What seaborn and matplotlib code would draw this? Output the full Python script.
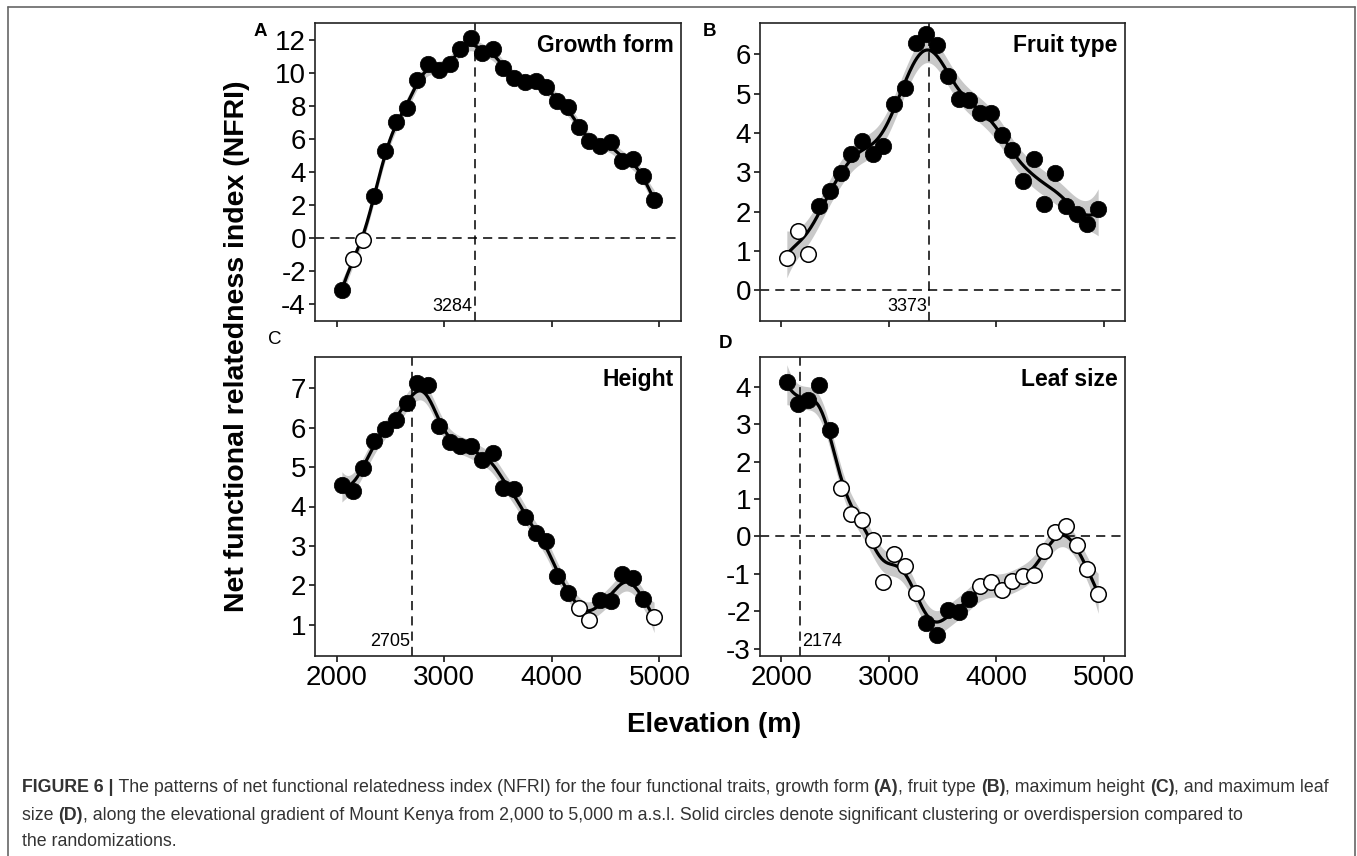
import numpy as np
import pandas as pd
import matplotlib
matplotlib.use("Agg")
import matplotlib.pyplot as plt
import seaborn as sns

# Elevation bands (m) - same for all four traits
elevation = [2050, 2150, 2250, 2350, 2450, 2550, 2650, 2750, 2850, 2950,
             3050, 3150, 3250, 3350, 3450, 3550, 3650, 3750, 3850, 3950,
             4050, 4150, 4250, 4350, 4450, 4550, 4650, 4750, 4850, 4950]

# NFRI values
growth_nfri = [-3.10, -1.25, -0.08, 2.53, 5.24, 7.05, 7.85, 9.56, 10.50, 10.16,
               10.52, 11.40, 12.07, 11.16, 11.43, 10.26, 9.66, 9.46, 9.50, 9.16,
               8.29, 7.95, 6.69, 5.88, 5.60, 5.80, 4.68, 4.78, 3.73, 2.33]
fruit_nfri = [0.81, 1.52, 0.92, 2.14, 2.53, 2.99, 3.47, 3.80, 3.47, 3.68,
              4.73, 5.14, 6.28, 6.51, 6.25, 5.46, 4.86, 4.84, 4.52, 4.52,
              3.95, 3.57, 2.79, 3.34, 2.19, 2.99, 2.15, 1.94, 1.70, 2.08]
height_nfri = [4.54, 4.40, 4.97, 5.67, 5.98, 6.21, 6.62, 7.15, 7.08, 6.05,
               5.63, 5.53, 5.53, 5.18, 5.35, 4.47, 4.44, 3.74, 3.33, 3.13,
               2.24, 1.81, 1.41, 1.11, 1.62, 1.60, 2.28, 2.17, 1.66, 1.18]
leaf_nfri = [4.12, 3.54, 3.66, 4.05, 2.85, 1.30, 0.61, 0.43, -0.09, -1.22,
             -0.46, -0.80, -1.51, -2.32, -2.63, -1.98, -2.02, -1.67, -1.33, -1.22,
             -1.44, -1.20, -1.07, -1.02, -0.40, 0.13, 0.28, -0.24, -0.86, -1.53]

# 1 = significant (solid circle), 0 = not significant (open circle)
growth_sig = [1, 0, 0, 1, 1, 1, 1, 1, 1, 1, 1, 1, 1, 1, 1,
              1, 1, 1, 1, 1, 1, 1, 1, 1, 1, 1, 1, 1, 1, 1]
fruit_sig = [0, 0, 0, 1, 1, 1, 1, 1, 1, 1, 1, 1, 1, 1, 1,
             1, 1, 1, 1, 1, 1, 1, 1, 1, 1, 1, 1, 1, 1, 1]
height_sig = [1, 1, 1, 1, 1, 1, 1, 1, 1, 1, 1, 1, 1, 1, 1,
              1, 1, 1, 1, 1, 1, 1, 0, 0, 1, 1, 1, 1, 1, 0]
leaf_sig = [1, 1, 1, 1, 1, 0, 0, 0, 0, 0, 0, 0, 0, 1, 1,
            1, 1, 1, 0, 0, 0, 0, 0, 0, 0, 0, 0, 0, 0, 0]

panel_titles = ["Growth form", "Fruit type", "Height", "Leaf size"]
panel_letters = ["A", "B", "C", "D"]
peak_elev = [3284, 3373, 2705, 2174]
y_ticks = [[-4, -2, 0, 2, 4, 6, 8, 10, 12], [0, 1, 2, 3, 4, 5, 6],
           [1, 2, 3, 4, 5, 6, 7], [-3, -2, -1, 0, 1, 2, 3, 4]]
y_limits = [(-5, 13), (-0.78, 6.8), (0.2, 7.8), (-3.2, 4.8)]
x_ticks = [2000, 3000, 4000, 5000]
smooth_bw = [75, 125, 90, 100]


def local_linear(x, y, grid, bw):
    # gaussian-kernel local linear smoother with pointwise standard error
    x = np.asarray(x, float)
    y = np.asarray(y, float)

    def weights(g):
        w = np.exp(-0.5 * ((x - g) / bw) ** 2)
        X = np.column_stack([np.ones_like(x), x - g])
        A = np.linalg.solve(X.T @ (X * w[:, None]), (X * w[:, None]).T)
        return A[0]

    L = np.array([weights(g) for g in x])
    resid = y - L @ y
    sigma = np.sqrt(np.sum(resid ** 2) / (len(x) - np.trace(L)))
    Lg = np.array([weights(g) for g in grid])
    return Lg @ y, sigma * np.sqrt(np.sum(Lg ** 2, axis=1))


sns.set_theme(style="ticks")
plt.rcParams["font.family"] = ["Liberation Sans", "DejaVu Sans"]
plt.rcParams["axes.unicode_minus"] = False
plt.rcParams["text.color"] = "black"
plt.rcParams["axes.labelcolor"] = "black"

fig = plt.figure(figsize=(13.57, 8.56), dpi=100)
W, H = 1357, 856
boxes = [(315, 23, 681, 321), (760, 23, 1125, 321),
         (315, 357, 681, 656), (760, 357, 1125, 656)]

series = [growth_nfri, fruit_nfri, height_nfri, leaf_nfri]
sigs = [growth_sig, fruit_sig, height_sig, leaf_sig]

for i in range(4):
    l, t, r, b = boxes[i]
    ax = fig.add_axes([l / W, 1 - b / H, (r - l) / W, (b - t) / H])
    df = pd.DataFrame({"elev": elevation, "nfri": series[i], "sig": sigs[i]})

    grid = np.linspace(min(elevation), max(elevation), 300)
    fit, se = local_linear(df["elev"], df["nfri"], grid, smooth_bw[i])
    ax.fill_between(grid, fit - 1.96 * se, fit + 1.96 * se,
                    color="#c9c9c9", lw=0, zorder=1)

    ax.axvline(peak_elev[i], color="black", lw=1.1, ls=(0, (6, 4)), zorder=2)
    if y_limits[i][0] < 0:
        ax.axhline(0, color="black", lw=1.1, ls=(0, (6, 4)), zorder=2)

    sns.lineplot(x=grid, y=fit, color="black", lw=2.3, ax=ax, zorder=3)
    sns.scatterplot(data=df[df["sig"] == 1], x="elev", y="nfri", s=140,
                    color="black", edgecolor="black", linewidth=0.5,
                    ax=ax, zorder=4)
    sns.scatterplot(data=df[df["sig"] == 0], x="elev", y="nfri", s=125,
                    facecolor="white", edgecolor="black", linewidth=1.1,
                    ax=ax, zorder=4)

    ax.set_xlim(1800, 5200)
    ax.set_ylim(*y_limits[i])
    ax.set_xticks(x_ticks)
    ax.set_yticks(y_ticks[i])
    if i < 2:
        ax.set_xticklabels([])
    ax.set_xlabel("")
    ax.set_ylabel("")
    ax.tick_params(direction="out", length=4.5, width=1.1, color="black",
                   labelsize=20, pad=2, labelcolor="black")
    for sp in ax.spines.values():
        sp.set_visible(True)
        sp.set_linewidth(1.2)
        sp.set_color("#222222")

    ax.text(0.98, 0.925, panel_titles[i], transform=ax.transAxes, ha="right",
            va="center", fontsize=16.5, fontweight="bold", color="black")

    # peak elevation label next to the dashed line
    y0 = y_limits[i][0] + 0.02 * (y_limits[i][1] - y_limits[i][0])
    if i == 3:
        ax.text(peak_elev[i] + 20, y0, str(peak_elev[i]), ha="left", va="bottom", fontsize=13)
    else:
        ax.text(peak_elev[i] - 20, y0, str(peak_elev[i]), ha="right", va="bottom", fontsize=13)

# panel letters
letter_pos = [(260, 32), (710, 31), (275, 340), (725, 343)]
for letter, (px, py) in zip(panel_letters, letter_pos):
    fig.text(px / W, 1 - py / H, letter, ha="center", va="center", fontsize=13.5,
             fontweight="normal" if letter == "C" else "bold")

fig.text(237 / W, 1 - 346 / H, "Net functional relatedness index (NFRI)",
         rotation=90, ha="center", va="center", fontsize=20.5, fontweight="bold")
fig.text(714 / W, 1 - 725 / H, "Elevation (m)", ha="center", va="center",
         fontsize=20, fontweight="bold")

# outer frame of the figure page
frame_col = "#666666"
fig.add_artist(plt.Line2D([8 / W, 1355 / W], [1 - 7 / H, 1 - 7 / H], color=frame_col, lw=1.2))
fig.add_artist(plt.Line2D([8 / W, 8 / W], [0, 1 - 7 / H], color=frame_col, lw=1.2))
fig.add_artist(plt.Line2D([1355 / W, 1355 / W], [0, 1 - 7 / H], color=frame_col, lw=1.2))

# caption with mixed bold / regular runs
caption = [
    [("FIGURE 6 |", True),
     (" The patterns of net functional relatedness index (NFRI) for the four functional traits, growth form ", False),
     ("(A)", True), (", fruit type ", False), ("(B)", True), (", maximum height ", False),
     ("(C)", True), (", and maximum leaf", False)],
    [("size ", False), ("(D)", True),
     (", along the elevational gradient of Mount Kenya from 2,000 to 5,000 m a.s.l. Solid circles denote significant clustering or overdispersion compared to", False)],
    [("the randomizations.", False)],
]
renderer = fig.canvas.get_renderer()
cap_size = 12.8
cap_col = "#333333"


def run_width(s, bold):
    w = "bold" if bold else "normal"
    t1 = fig.text(0, 0, "|" + s + "|", fontsize=cap_size, fontweight=w)
    t2 = fig.text(0, 0, "||", fontsize=cap_size, fontweight=w)
    width = t1.get_window_extent(renderer).width - t2.get_window_extent(renderer).width
    t1.remove()
    t2.remove()
    return width


for row, line_y in zip(caption, [787, 815, 842]):
    x = 22.0
    for s, bold in row:
        fig.text(x / W, 1 - line_y / H, s, ha="left", va="center", fontsize=cap_size,
                 fontweight="bold" if bold else "normal", color=cap_col)
        x += run_width(s, bold)

fig.savefig("out.png", dpi=100)
